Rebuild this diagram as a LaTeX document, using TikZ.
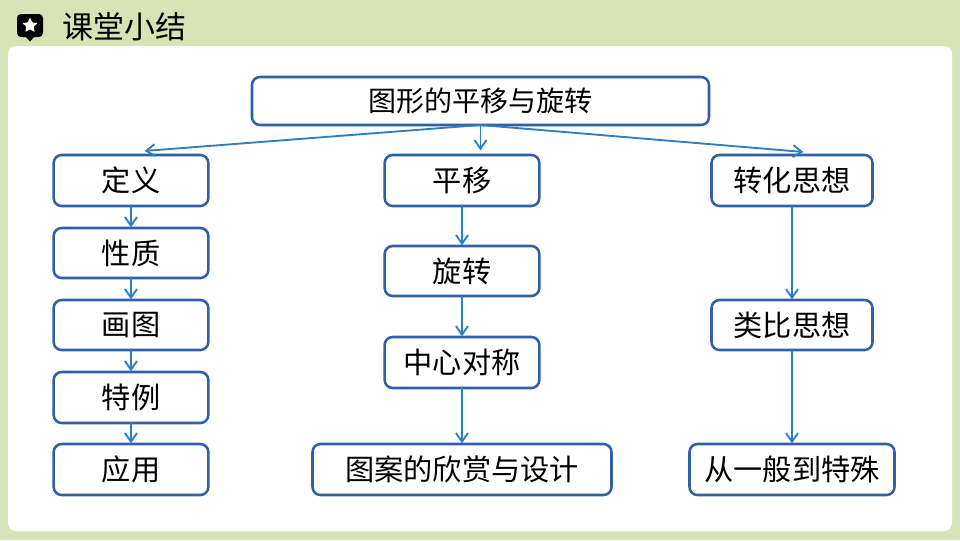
\documentclass[tikz,border=0pt]{standalone}
\usepackage{fontspec}
\newfontfamily\cjk{Noto Sans CJK SC}
\usetikzlibrary{arrows.meta}
\usetikzlibrary{positioning}
\usetikzlibrary{shapes.geometric}
\definecolor{pagegreen}{HTML}{D8E3B5}
\definecolor{boxblue}{HTML}{2F60A9}
\definecolor{arrowblue}{HTML}{2E7FC0}
\tikzset{
  topic/.style={draw=boxblue, line width=1.9pt, rounded corners=6pt, fill=white, font=\cjk\fontsize{21.9}{24}\selectfont,
    inner sep=0pt, outer sep=0pt, minimum height=37.5pt, minimum width=116pt},
  link/.style={->, draw=arrowblue, line width=1.4pt, >={Straight Barb[length=6.5pt,width=9pt]}, shorten >=0.5pt}
}
\begin{document}
\begin{tikzpicture}[x=0.75pt, y=-0.75pt]
        \useasboundingbox (0,0) rectangle (960,540);
        \fill[pagegreen] (0,0) rectangle (960,540);
        \fill[white, rounded corners=6pt] (8,46) rectangle (952,531);
        % heading
        \fill[black, rounded corners=3pt] (17,14) rectangle (43,37);
        \fill[black] (25,36) -- (30,41.5) -- (35,36) -- cycle;
        \node[star, star points=5, star point ratio=2.1, fill=white, inner sep=0pt, minimum size=12pt, rounded corners=0.5pt] (icon) at (30,25.5) {};
        \node[font=\cjk\fontsize{23.2}{26}\selectfont, anchor=west, inner sep=0pt] (title) at (62,27) {课堂小结};

        \node[topic, minimum width=342.75pt, minimum height=36pt, font=\cjk\fontsize{21}{24}\selectfont] (tuxing) at (480.5,101) {图形的平移与旋转};

        \node[topic, minimum height=38.25pt] (dingyi) at (131,180.5) {定义};
        \node[topic, below=16.5pt of dingyi] (xingzhi) {性质};
        \node[topic, below=16.5pt of xingzhi] (huatu) {画图};
        \node[topic, below=16.5pt of huatu, minimum height=38.25pt] (teli) {特例};
        \node[topic, below=15.75pt of teli, minimum height=38.25pt] (yingyong) {应用};

        \node[topic, minimum height=38.25pt] (pingyi) at (462,180.5) {平移};
        \node[topic, below=30pt of pingyi] (xuanzhuan) {旋转};
        \node[topic, below=30.75pt of xuanzhuan, minimum height=38.25pt] (duichen) {中心对称};
        \node[topic, below=42pt of duichen, minimum width=224.25pt, minimum height=38.25pt] (tuan) {图案的欣赏与设计};

        \node[topic, minimum width=120.75pt, minimum height=38.25pt] (zhuanhua) at (792,180.5) {转化思想};
        \node[topic, below=70.5pt of zhuanhua, minimum width=120.75pt] (leibi) {类比思想};
        \node[topic, below=70.5pt of leibi, minimum width=153.75pt, minimum height=38.25pt] (teshu) {从一般到特殊};

        \coordinate (tipleft) at (144,151);
        \coordinate (tipmid) at (480.5,151);
        \coordinate (tipright) at (804,152);

        \draw[link] (tuxing.south) -- (tipleft);
        \draw[link] (tuxing.south) -- (tipmid);
        \draw[link] (tuxing.south) -- (tipright);

        \draw[link] (dingyi) -- (xingzhi);
        \draw[link] (xingzhi) -- (huatu);
        \draw[link] (huatu) -- (teli);
        \draw[link] (teli) -- (yingyong);

        \draw[link] (pingyi) -- (xuanzhuan);
        \draw[link] (xuanzhuan) -- (duichen);
        \draw[link] (duichen) -- (tuan);

        \draw[link] (zhuanhua) -- (leibi);
        \draw[link] (leibi) -- (teshu);
    \end{tikzpicture}
\end{document}
